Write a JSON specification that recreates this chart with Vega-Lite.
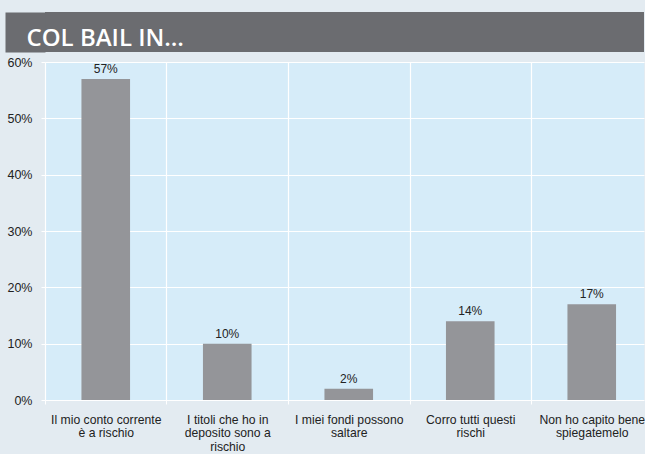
{
  "$schema": "https://vega.github.io/schema/vega-lite/v6.json",
  "background": "#e3ebf1",
  "padding": {"left": 6, "top": 12, "right": 0, "bottom": 2},
  "columns": 1,
  "bounds": "full",
  "spacing": 4,
  "config": {"font": "Liberation Sans", "view": {"stroke": null}},
  "concat": [
    {
      "width": 599,
      "height": 40,
      "view": {"fill": "#6b6c70", "stroke": null},
      "data": {"values": []},
      "mark": "rect",
      "encoding": {
        "y": {
          "field": "v",
          "type": "quantitative",
          "scale": {"domain": [0, 1]},
          "axis": {
            "title": "COL BAIL IN…",
            "titleAngle": 0,
            "titleAlign": "left",
            "titleBaseline": "alphabetic",
            "titleX": 1,
            "titleY": 33,
            "titleColor": "#ffffff",
            "titleFont": "Open Sans",
            "titleFontWeight": 600,
            "titleFontSize": 24,
            "labels": false,
            "ticks": false,
            "grid": false,
            "domain": true,
            "domainColor": "#6b6c70",
            "domainWidth": 40,
            "offset": 20
          }
        }
      }
    },
    {
      "width": 599,
      "height": 338,
      "view": {"fill": "#d6ecf9", "stroke": null},
      "data": {
        "values": [
          {"risposta": "Il mio conto corrente\nè a rischio", "quota": 0.57},
          {"risposta": "I titoli che ho in\ndeposito sono a\nrischio", "quota": 0.10},
          {"risposta": "I miei fondi possono\nsaltare", "quota": 0.02},
          {"risposta": "Corro tutti questi\nrischi", "quota": 0.14},
          {"risposta": "Non ho capito bene\nspiegatemelo", "quota": 0.17}
        ]
      },
      "encoding": {
        "x": {
          "field": "risposta",
          "type": "nominal",
          "sort": null,
          "scale": {"paddingInner": 0.6, "paddingOuter": 0.265, "align": 0.566},
          "axis": {
            "title": null,
            "labelExpr": "split(datum.label, '\\n')",
            "labelAngle": 0,
            "labelFontSize": 12.2,
            "labelColor": "#222222",
            "labelLineHeight": 13.5,
            "labelPadding": 9,
            "labelOverlap": false,
            "labelBound": false,
            "labelLimit": 0,
            "domain": false,
            "ticks": true,
            "tickSize": 4,
            "tickColor": "#ffffff",
            "grid": true,
            "gridColor": "#ffffff",
            "gridWidth": 1.2,
            "bandPosition": 0,
            "tickOffset": -36.45,
            "labelOffset": 36.45
          }
        },
        "y": {
          "field": "quota",
          "type": "quantitative",
          "scale": {"domain": [0, 0.6]},
          "axis": {
            "title": null,
            "format": ".0%",
            "values": [0, 0.1, 0.2, 0.3, 0.4, 0.5, 0.6],
            "domain": false,
            "tickSize": 4,
            "tickColor": "#ffffff",
            "grid": true,
            "gridColor": "#ffffff",
            "gridWidth": 1.2,
            "labelFontSize": 12.5,
            "labelColor": "#222222",
            "labelPadding": 9
          }
        }
      },
      "layer": [
        {"mark": {"type": "bar", "color": "#949599"}},
        {
          "mark": {"type": "text", "baseline": "alphabetic", "dy": -6, "fontSize": 12, "color": "#222222"},
          "encoding": {"text": {"field": "quota", "type": "quantitative", "format": ".0%"}}
        }
      ]
    }
  ]
}
